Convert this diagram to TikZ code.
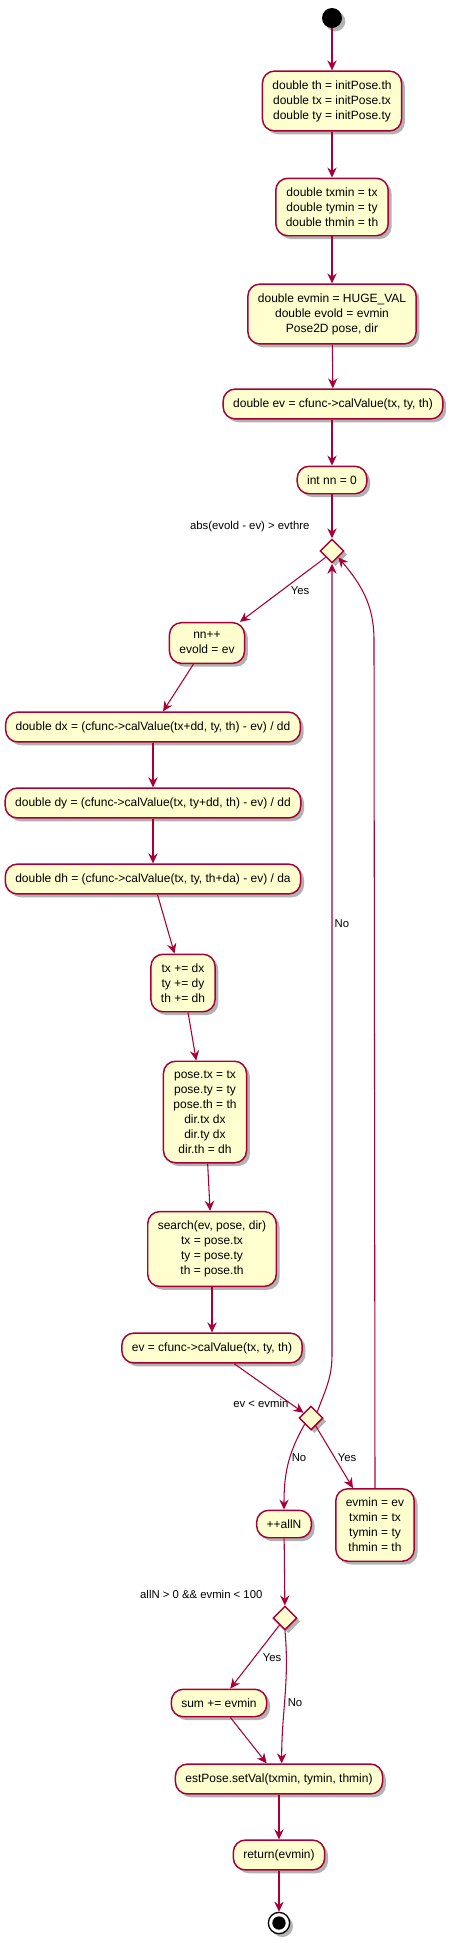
\documentclass[tikz,border=0pt]{standalone}
\usepackage{fontspec}
\setmainfont{Liberation Sans}
\usetikzlibrary{arrows.meta,shapes.geometric,shadows}
\definecolor{umlred}{HTML}{A80036}
\definecolor{umlfill}{HTML}{FEFECE}
\begin{document}
\begin{tikzpicture}[x=0.75pt,y=-0.75pt,
  shade/.style={drop shadow={shadow xshift=2.5pt,shadow yshift=-2.5pt,opacity=0.3,fill=black}},
  act/.style={draw=umlred,fill=umlfill,line width=1.1pt,rounded corners=9pt,align=center,
    inner xsep=7.5pt,inner ysep=7pt,font=\fontsize{9}{11.25}\selectfont,shade},
  dec/.style={diamond,draw=umlred,fill=umlfill,line width=1.1pt,minimum width=18pt,
    minimum height=18pt,inner sep=0pt,shade},
  lbl/.style={font=\fontsize{8.5}{10}\selectfont,inner sep=1pt},
  flow/.style={draw=umlred,line width=0.8pt,-{Stealth[length=7.5pt,width=7pt,inset=2.5pt]}}]
\useasboundingbox (0,0) rectangle (452,1943);
\node[circle,fill=black,minimum size=15pt,inner sep=0pt,shade] (start) at (332,18) {};
\node[act] (init) at (332,101) {double th = initPose.th\\double tx = initPose.tx\\double ty = initPose.ty};
\node[act] (mins) at (332,207) {double txmin = tx\\double tymin = ty\\double thmin = th};
\node[act] (evs) at (332,314) {double evmin = HUGE\_VAL\\double evold = evmin\\Pose2D pose, dir};
\node[act] (ev0) at (333,404) {double ev = cfunc->calValue(tx, ty, th)};
\node[act] (nn) at (332,480) {int nn = 0};
\node[dec] (loop) at (332,551) {};
\node[act] (inc) at (207,643) {nn++\\evold = ev};
\node[act] (dx) at (153,727) {double dx = (cfunc->calValue(tx+dd, ty, th) - ev) / dd};
\node[act] (dy) at (153,803) {double dy = (cfunc->calValue(tx, ty+dd, th) - ev) / dd};
\node[act] (dh) at (153,879) {double dh = (cfunc->calValue(tx, ty, th+da) - ev) / da};
\node[act] (upd) at (183,983) {tx += dx\\ty += dy\\th += dh};
\node[act] (pose) at (205,1112) {pose.tx = tx\\pose.ty = ty\\pose.th = th\\dir.tx dx\\dir.ty dx\\dir.th = dh};
\node[act] (srch) at (212,1249) {search(ev, pose, dir)\\tx = pose.tx\\ty = pose.ty\\th = pose.th};
\node[act] (ev) at (212,1348) {ev = cfunc->calValue(tx, ty, th)};
\node[dec] (cmp) at (311,1418) {};
\node[act] (alln) at (284,1524) {++allN};
\node[act] (emin) at (375,1525) {evmin = ev\\txmin = tx\\tymin = ty\\thmin = th};
\node[dec] (chk) at (285,1618) {};
\node[act] (sum) at (219,1703) {sum += evmin};
\node[act] (est) at (279,1779) {estPose.setVal(txmin, tymin, thmin)};
\node[act] (ret) at (279,1855) {return(evmin)};
\node[circle,draw=black,fill=white,line width=1pt,minimum size=16pt,inner sep=0pt,shade] (stop) at (279,1923) {};
\fill (stop) circle (5pt);
\node[lbl,anchor=east] (lloop) at (311,527) {abs(evold - ev) > evthre};
\node[lbl] (lyes1) at (300,591) {Yes};
\node[lbl,anchor=west] (lno1) at (333,924) {No};
\node[lbl,anchor=east] (lcmp) at (290,1403) {ev < evmin};
\node[lbl] (lno2) at (299,1458) {No};
\node[lbl] (lyes2) at (347,1458) {Yes};
\node[lbl,anchor=east] (lchk) at (264,1594) {allN > 0 \&\& evmin < 100};
\node[lbl] (lyes3) at (272,1658) {Yes};
\node[lbl] (lno3) at (295,1703) {No};
\coordinate (lp) at (332,1355);
\coordinate (lq) at (374,640);
\draw[flow] (start) -- (init);
\draw[flow] (init) -- (mins);
\draw[flow] (mins) -- (evs);
\draw[flow] (evs) -- (ev0);
\draw[flow] (ev0.south -| nn) -- (nn);
\draw[flow] (nn) -- (loop);
\draw[flow] (loop.south west) -- ([xshift=-4pt]inc.north east);
\draw[flow] (inc) -- (dx);
\draw[flow] (dx) -- (dy);
\draw[flow] (dy) -- (dh);
\draw[flow] (dh) -- (upd);
\draw[flow] (upd) -- (pose);
\draw[flow] (pose) -- (srch);
\draw[flow] (srch.south -| ev) -- (ev);
\draw[flow] (ev) -- (cmp);
\draw[flow] (cmp.south west) to[out=240,in=90] (alln.north);
\draw[flow] (cmp) -- (emin);
\draw[flow] (cmp.north east) to[out=70,in=-90] (lp) -- (loop.south);
\draw[flow] (emin.north |- emin.north) -- (lq) to[out=90,in=-50] (loop.south east);
\draw[flow] (alln) -- (chk);
\draw[flow] (chk) -- (sum);
\draw[flow] (chk.south) to[out=-85,in=90] ([xshift=2pt]est.north);
\draw[flow] (sum) -- (est);
\draw[flow] (est) -- (ret);
\draw[flow] (ret) -- (stop);
\end{tikzpicture}
\end{document}
